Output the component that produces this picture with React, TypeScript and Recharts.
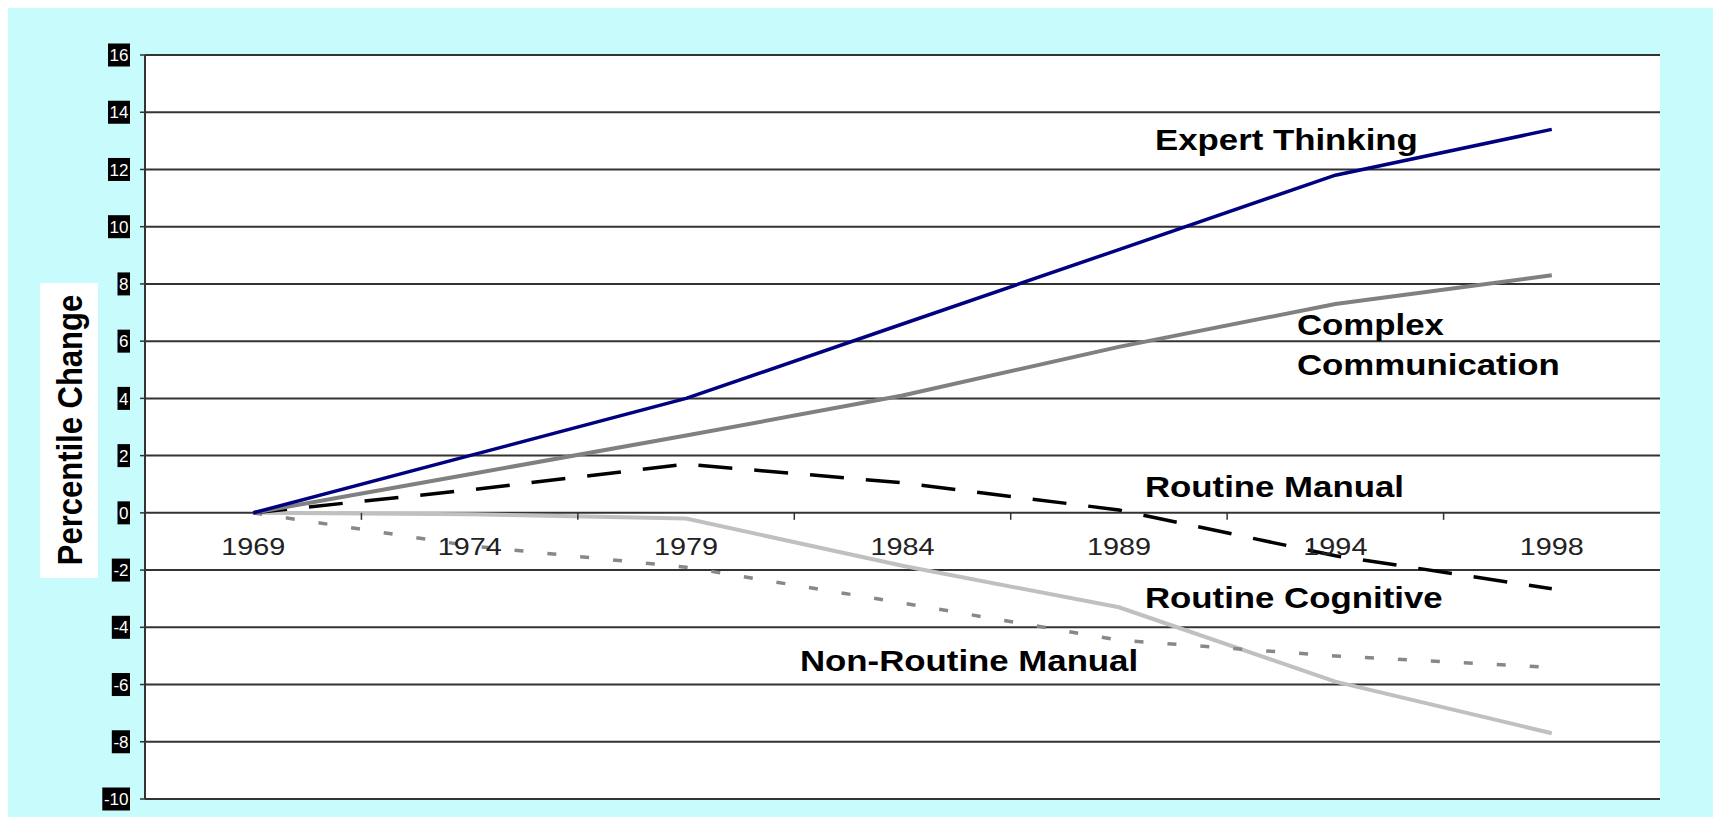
import React from 'react';
import { LineChart, Line, CartesianGrid, XAxis, YAxis } from 'recharts';

const years = ['1969', '1974', '1979', '1984', '1989', '1994', '1998'];
const expertThinking = [0, 2.0, 4.0, 6.6, 9.2, 11.8, 13.4];
const complexCommunication = [0, 1.35, 2.7, 4.1, 5.8, 7.3, 8.3];
const routineManual = [0, 0.8, 1.7, 1.05, 0.1, -1.5, -2.65];
const routineCognitive = [0, -1.15, -1.9, -3.15, -4.45, -5.0, -5.4];
const nonRoutineManual = [0, -0.05, -0.2, -1.85, -3.3, -5.9, -7.7];
const yTicks = [-10, -8, -6, -4, -2, 0, 2, 4, 6, 8, 10, 12, 14, 16];

const data = years.map((year, i) => ({
  year,
  expert: expertThinking[i],
  complex: complexCommunication[i],
  routineManual: routineManual[i],
  routineCognitive: routineCognitive[i],
  nonRoutineManual: nonRoutineManual[i],
}));

const W = 1705;
const H = 809;
const xAxisHeight = 18;
const margin = { top: 47, right: 53, bottom: 0, left: 0 };
const yAxisWidth = 137;
const yMin = -10;
const yMax = 16;
const plotTop = margin.top;
const plotH = H - margin.top - margin.bottom - xAxisHeight;
const plotW = W - margin.left - margin.right - yAxisWidth;
const zeroY = plotTop + (yMax / (yMax - yMin)) * plotH;
const band = plotW / years.length;

const FONT = "Arial, 'Liberation Sans', sans-serif";

const XTick = (props: any) => {
  const { x, payload, index } = props;
  return (
    <g transform={`translate(${x},${zeroY})`}>
      {index < years.length - 1 && (
        <line x1={band / 2} x2={band / 2} y1={0} y2={7} stroke="#333" strokeWidth={1.5} />
      )}
      <text
        y={42}
        textAnchor="middle"
        transform="scale(1.2,1)"
        fontSize={24}
        fontFamily={FONT}
        fill="#222"
      >
        {payload.value}
      </text>
    </g>
  );
};

const YTick = (props: any) => {
  const { x, y, payload } = props;
  const s = String(payload.value);
  const w = [...s].reduce((a, c) => a + (c === '-' ? 5.7 : 9.5), 0) + 3;
  return (
    <g>
      <rect x={x - w} y={y - 11.5} width={w} height={23} fill="#000" />
      <text x={x - 1.5} y={y} dy="0.36em" textAnchor="end" fill="#fff" fontSize={17} fontFamily={FONT}>
        {s}
      </text>
    </g>
  );
};

const seriesLabels = [
  { text: 'Expert Thinking', x: 1147, y: 142 },
  { text: 'Complex', x: 1289, y: 327 },
  { text: 'Communication', x: 1289, y: 367 },
  { text: 'Routine Manual', x: 1137, y: 489 },
  { text: 'Routine Cognitive', x: 1137, y: 600 },
  { text: 'Non-Routine Manual', x: 792, y: 663 },
];

export default function App() {
  return (
    <div
      style={{
        position: 'absolute',
        left: 8,
        top: 8,
        width: W,
        height: H,
        background: '#C8FCFC',
        overflow: 'hidden',
      }}
    >
      <LineChart width={W} height={H} data={data} margin={margin}>
        <CartesianGrid vertical={false} stroke="#333" strokeWidth={2} fill="#fff" fillOpacity={1} />
        <XAxis
          dataKey="year"
          height={xAxisHeight}
          axisLine={false}
          tickLine={false}
          tickSize={0}
          tick={<XTick />}
          interval={0}
          padding={{ left: band / 2, right: band / 2 }}
        />
        <YAxis
          domain={[yMin, yMax]}
          ticks={yTicks}
          width={yAxisWidth}
          interval={0}
          tickSize={5}
          tickMargin={10}
          axisLine={{ stroke: '#333', strokeWidth: 2 }}
          tickLine={{ stroke: '#333', strokeWidth: 1.5 }}
          tick={<YTick />}
        />
        <YAxis
          yAxisId="right"
          orientation="right"
          domain={[yMin, yMax]}
          width={0}
          tick={false}
          tickLine={false}
          axisLine={{ stroke: '#333', strokeWidth: 2 }}
        />
        <Line
          dataKey="nonRoutineManual"
          stroke="#C0C0C0"
          strokeWidth={4}
          dot={false}
          isAnimationActive={false}
        />
        <Line
          dataKey="routineCognitive"
          stroke="#888"
          strokeWidth={3.5}
          strokeDasharray="9 24"
          dot={false}
          isAnimationActive={false}
        />
        <Line
          dataKey="routineManual"
          stroke="#000"
          strokeWidth={3.5}
          strokeDasharray="34 22"
          dot={false}
          isAnimationActive={false}
        />
        <Line
          dataKey="complex"
          stroke="#808080"
          strokeWidth={4}
          dot={false}
          isAnimationActive={false}
        />
        <Line
          dataKey="expert"
          stroke="#000080"
          strokeWidth={3.5}
          dot={false}
          isAnimationActive={false}
        />
      </LineChart>
      <svg
        width={W}
        height={H}
        style={{ position: 'absolute', left: 0, top: 0, pointerEvents: 'none' }}
      >
        <rect x={32} y={275} width={58} height={295} fill="#fff" />
        <text
          transform="translate(62,422) rotate(-90) scale(1,1.12)"
          textAnchor="middle"
          dominantBaseline="central"
          fontSize={31}
          fontWeight="bold"
          fontFamily={FONT}
          fill="#000"
        >
          Percentile Change
        </text>
        {seriesLabels.map((l) => (
          <text
            key={l.text}
            transform={`translate(${l.x},${l.y}) scale(1.2,1)`}
            fontSize={29}
            fontWeight="bold"
            fontFamily={FONT}
            fill="#000"
          >
            {l.text}
          </text>
        ))}
      </svg>
    </div>
  );
}
